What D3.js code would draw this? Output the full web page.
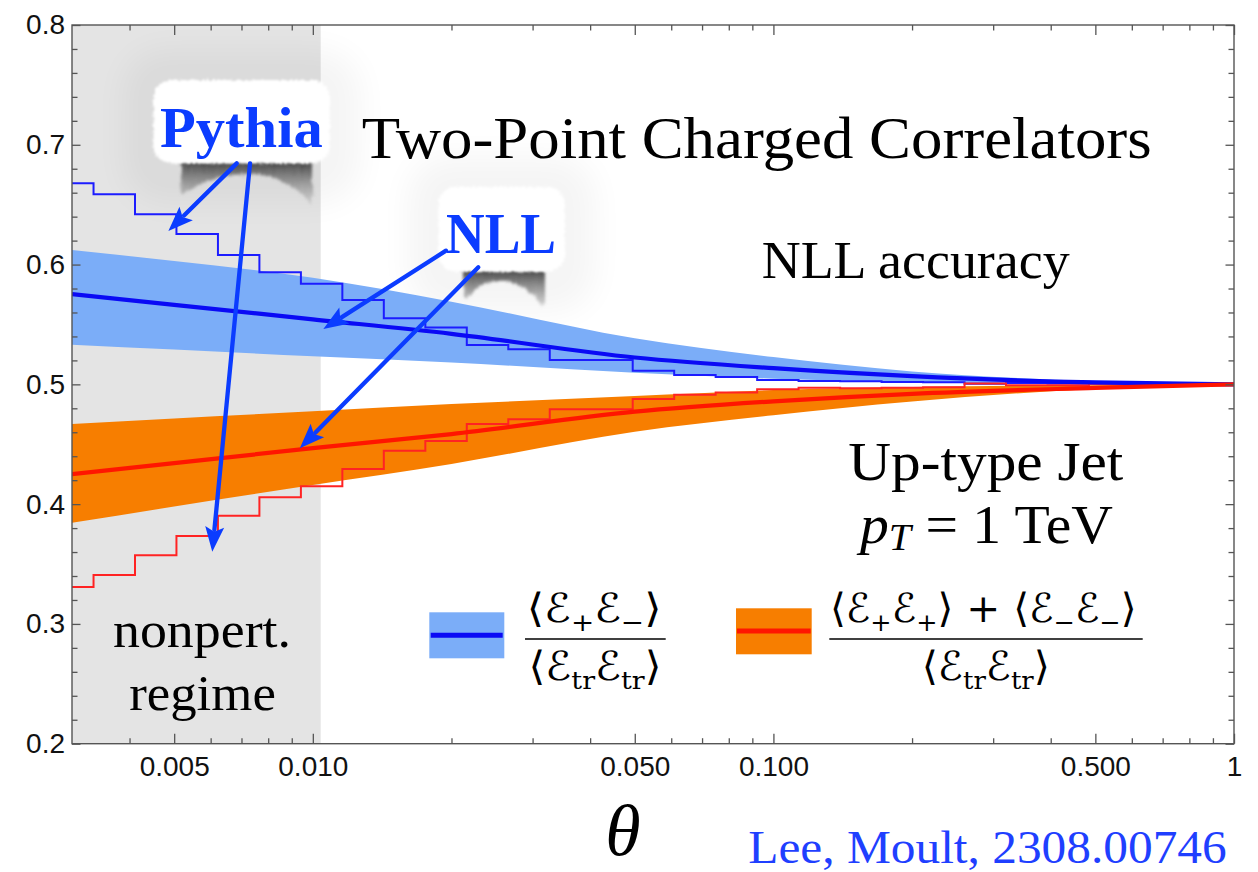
<!DOCTYPE html>
<html>
<head>
<meta charset="utf-8">
<script src="https://cdn.jsdelivr.net/npm/d3@7"></script>
<style>
  html, body { margin: 0; padding: 0; background: #ffffff; }
  svg { display: block; }
</style>
</head>
<body>
<svg id="chart" width="1258" height="872"></svg>
<script>
// ---------------------------------------------------------------
// Two-point charged energy correlators, up-type jet, pT = 1 TeV
// ---------------------------------------------------------------

// Pythia histogram bin edges in theta (log-spaced bins)
const binEdges = [
  0.002715, 0.003341, 0.004111, 0.005057, 0.006223, 0.007656, 0.009421,
  0.01159, 0.01426, 0.01755, 0.02159, 0.02657, 0.03269, 0.04022, 0.04949,
  0.06089, 0.07492, 0.09219, 0.1134, 0.1396, 0.1717, 0.2113, 0.2600,
  0.3199, 0.3936, 0.4843, 0.5959, 0.7333, 0.9022, 1.11
];

// Pythia: <E+ E-> / <Etr Etr>, one value per bin
const pythiaOpposite = [
  0.6678, 0.6586, 0.6420, 0.6255, 0.6080, 0.5935, 0.5840, 0.5704,
  0.5551, 0.5475, 0.5329, 0.5292, 0.5203, 0.5203, 0.5114, 0.5078,
  0.5061, 0.5036, 0.5028, 0.5025, 0.5020, 0.5018, 0.5005, 0.5012,
  0.5008, 0.5005, 0.5003, 0.5002, 0.5001
];

// Pythia: (<E+ E+> + <E- E->) / <Etr Etr>, one value per bin
const pythiaSame = [
  0.3309, 0.3408, 0.3573, 0.3734, 0.3904, 0.4057, 0.4149, 0.4293,
  0.4446, 0.4527, 0.4669, 0.4708, 0.4792, 0.4792, 0.4878, 0.4914,
  0.4931, 0.4959, 0.4972, 0.4968, 0.4972, 0.4975, 0.5008, 0.4992,
  0.4993, 0.5004, 0.4998, 0.4999, 0.4999
];

// NLL predictions sampled in theta
const thetaGrid = [0.003, 0.005, 0.01, 0.02, 0.05, 0.1, 0.2, 0.5, 1.0];

const nllOppCentral = [0.5754, 0.5664, 0.5543, 0.5422, 0.5224, 0.5135, 0.5068, 0.5016, 0.5000];
const nllOppUpper   = [0.6122, 0.6030, 0.5890, 0.5690, 0.5385, 0.5228, 0.5108, 0.5027, 0.5000];
const nllOppLower   = [0.5330, 0.5290, 0.5235, 0.5183, 0.5097, 0.5047, 0.5020, 0.5005, 0.5000];

const nllSameCentral = [0.4251, 0.4343, 0.4467, 0.4585, 0.4772, 0.4858, 0.4921, 0.4970, 0.5000];
const nllSameUpper   = [0.4669, 0.4715, 0.4775, 0.4835, 0.4903, 0.4952, 0.4977, 0.4993, 0.5000];
const nllSameLower   = [0.3844, 0.3980, 0.4160, 0.4336, 0.4605, 0.4742, 0.4857, 0.4962, 0.5000];

// Non-perturbative region boundary in theta
const nonpertLimit = 0.0104;

// Axis ticks
const xMajorTicks  = [0.005, 0.01, 0.05, 0.1, 0.5, 1];
const xTickLabels  = ["0.005", "0.010", "0.050", "0.100", "0.500", "1"];
const xMinorTicks  = [0.004, 0.006, 0.007, 0.008, 0.009, 0.02, 0.03, 0.04,
                      0.06, 0.07, 0.08, 0.09, 0.2, 0.3, 0.4, 0.6, 0.7, 0.8, 0.9];
const yMajorTicks  = [0.2, 0.3, 0.4, 0.5, 0.6, 0.7, 0.8];
const yTickLabels  = ["0.2", "0.3", "0.4", "0.5", "0.6", "0.7", "0.8"];
const yMinorTicks  = [0.22, 0.24, 0.26, 0.28, 0.32, 0.34, 0.36, 0.38, 0.42, 0.44, 0.46, 0.48,
                      0.52, 0.54, 0.56, 0.58, 0.62, 0.64, 0.66, 0.68, 0.72, 0.74, 0.76, 0.78];

// Callout arrows: [thetaStart, valueStart, thetaTip, valueTip]
const pythiaArrows = [
  [0.006836, 0.6845, 0.004857, 0.6280],
  [0.007305, 0.6845, 0.006049, 0.3603]
];
const nllArrows = [
  [0.01946, 0.6116, 0.01054, 0.5462],
  [0.02287, 0.5977, 0.009370, 0.4466]
];

// ---------------------------------------------------------------
const svg = d3.select("#chart");
const plot = { left: 72, right: 1234, top: 25, bottom: 743.7 };

const x = d3.scaleLog().domain([0.003, 1]).range([plot.left, plot.right]);
const y = d3.scaleLinear().domain([0.2, 0.8]).range([plot.bottom, plot.top]);

const C = {
  oppBand: "#7badf8",
  oppLine: "#0a0af5",
  oppHist: "#1c1cff",
  sameBand: "#f77e00",
  sameLine: "#ff1600",
  sameHist: "#ff2323",
  callout: "#0b3cff",
  axis: "#555555",
  shade: "#e4e4e4"
};

const defs = svg.append("defs");
defs.append("clipPath").attr("id", "plot-clip")
  .append("rect")
  .attr("x", plot.left).attr("y", plot.top)
  .attr("width", plot.right - plot.left).attr("height", plot.bottom - plot.top);

const haloFilter = defs.append("filter").attr("id", "halo")
  .attr("x", "-60%").attr("y", "-60%").attr("width", "220%").attr("height", "220%");
haloFilter.append("feGaussianBlur").attr("stdDeviation", 16);

const roughFilter = defs.append("filter").attr("id", "rough")
  .attr("x", "-10%").attr("y", "-10%").attr("width", "120%").attr("height", "120%");
roughFilter.append("feTurbulence").attr("type", "fractalNoise")
  .attr("baseFrequency", 0.45).attr("numOctaves", 2).attr("seed", 3).attr("result", "noise");
roughFilter.append("feDisplacementMap").attr("in", "SourceGraphic").attr("in2", "noise")
  .attr("scale", 5).attr("xChannelSelector", "R").attr("yChannelSelector", "G").attr("result", "disp");
roughFilter.append("feGaussianBlur").attr("in", "disp").attr("stdDeviation", 0.8);

const shadowBlur = defs.append("filter").attr("id", "shadowblur")
  .attr("x", "-20%").attr("y", "-20%").attr("width", "140%").attr("height", "140%");
shadowBlur.append("feTurbulence").attr("type", "fractalNoise")
  .attr("baseFrequency", "0.6 0.05").attr("numOctaves", 2).attr("seed", 7).attr("result", "n");
shadowBlur.append("feDisplacementMap").attr("in", "SourceGraphic").attr("in2", "n")
  .attr("scale", 6).attr("xChannelSelector", "R").attr("yChannelSelector", "G").attr("result", "d");
shadowBlur.append("feGaussianBlur").attr("in", "d").attr("stdDeviation", 1.6);

const shadowGrad = defs.append("linearGradient").attr("id", "shadowgrad")
  .attr("x1", 0).attr("y1", 0).attr("x2", 0).attr("y2", 1);
shadowGrad.append("stop").attr("offset", "0%").attr("stop-color", "#3c3c3c").attr("stop-opacity", 0.95);
shadowGrad.append("stop").attr("offset", "35%").attr("stop-color", "#6e6e6e").attr("stop-opacity", 0.8);
shadowGrad.append("stop").attr("offset", "100%").attr("stop-color", "#a8a8a8").attr("stop-opacity", 0.35);

// ---------------- background + shaded region ----------------
svg.append("rect").attr("width", 1258).attr("height", 872).attr("fill", "#ffffff");

const plotG = svg.append("g").attr("clip-path", "url(#plot-clip)");

plotG.append("rect")
  .attr("x", x(0.003)).attr("y", plot.top)
  .attr("width", x(nonpertLimit) - x(0.003))
  .attr("height", plot.bottom - plot.top)
  .attr("fill", C.shade);

// soft halos around the callout boxes
const boxes = [
  { x0: 153.3, x1: 330, y0: 80, y1: 163.3 },
  { x0: 438.3, x1: 565, y0: 186.7, y1: 271.7 }
];
boxes.forEach(b => {
  plotG.append("rect")
    .attr("x", b.x0 - 30).attr("y", b.y0 - 30)
    .attr("width", b.x1 - b.x0 + 60).attr("height", b.y1 - b.y0 + 70)
    .attr("rx", 40)
    .attr("fill", "#000").attr("opacity", 0.04)
    .attr("filter", "url(#halo)");
});

// ---------------- NLL bands ----------------
const bandOpp = thetaGrid.map((t, i) => ({ t, lo: nllOppLower[i], hi: nllOppUpper[i], c: nllOppCentral[i] }));
const bandSame = thetaGrid.map((t, i) => ({ t, lo: nllSameLower[i], hi: nllSameUpper[i], c: nllSameCentral[i] }));

const area = d3.area()
  .x(d => x(d.t)).y0(d => y(d.lo)).y1(d => y(d.hi))
  .curve(d3.curveMonotoneX);

plotG.append("path").datum(bandOpp).attr("d", area).attr("fill", C.oppBand);
plotG.append("path").datum(bandSame).attr("d", area).attr("fill", C.sameBand);

// ---------------- Pythia histograms ----------------
function stepPoints(values) {
  const pts = values.map((v, i) => ({ t: binEdges[i], v }));
  pts.push({ t: binEdges[values.length], v: values[values.length - 1] });
  return pts;
}
const stepLine = d3.line().x(d => x(d.t)).y(d => y(d.v)).curve(d3.curveStepAfter);

plotG.append("path").datum(stepPoints(pythiaOpposite)).attr("d", stepLine)
  .attr("fill", "none").attr("stroke", C.oppHist).attr("stroke-width", 2);
plotG.append("path").datum(stepPoints(pythiaSame)).attr("d", stepLine)
  .attr("fill", "none").attr("stroke", C.sameHist).attr("stroke-width", 2);

// ---------------- NLL central curves ----------------
const centralLine = d3.line().x(d => x(d.t)).y(d => y(d.c)).curve(d3.curveMonotoneX);
plotG.append("path").datum(bandOpp).attr("d", centralLine)
  .attr("fill", "none").attr("stroke", C.oppLine).attr("stroke-width", 4.2);
plotG.append("path").datum(bandSame).attr("d", centralLine)
  .attr("fill", "none").attr("stroke", C.sameLine).attr("stroke-width", 4.2);

// ---------------- axes (frame with inward ticks) ----------------
function styleAxis(g) {
  g.select(".domain").remove();
  g.selectAll(".tick line").attr("stroke", C.axis).attr("stroke-width", 1.3);
  g.selectAll(".tick text")
    .attr("font-family", "'Liberation Sans', Arial, Helvetica, sans-serif")
    .attr("font-size", 28).attr("fill", "#111");
}

svg.append("g").attr("transform", `translate(0,${plot.bottom})`)
  .call(d3.axisBottom(x).tickValues(xMajorTicks).tickSize(-10).tickPadding(12)
    .tickFormat((d, i) => xTickLabels[i]))
  .call(styleAxis);
svg.append("g").attr("transform", `translate(0,${plot.bottom})`)
  .call(d3.axisBottom(x).tickValues(xMinorTicks).tickSize(-5.5).tickFormat(""))
  .call(styleAxis);
svg.append("g").attr("transform", `translate(0,${plot.top})`)
  .call(d3.axisTop(x).tickValues(xMajorTicks).tickSize(-10).tickFormat(""))
  .call(styleAxis);
svg.append("g").attr("transform", `translate(0,${plot.top})`)
  .call(d3.axisTop(x).tickValues(xMinorTicks).tickSize(-5.5).tickFormat(""))
  .call(styleAxis);

svg.append("g").attr("transform", `translate(${plot.left},0)`)
  .call(d3.axisLeft(y).tickValues(yMajorTicks).tickSize(-8.5).tickPadding(7)
    .tickFormat((d, i) => yTickLabels[i]))
  .call(styleAxis);
svg.append("g").attr("transform", `translate(${plot.left},0)`)
  .call(d3.axisLeft(y).tickValues(yMinorTicks).tickSize(-5.5).tickFormat(""))
  .call(styleAxis);
svg.append("g").attr("transform", `translate(${plot.right},0)`)
  .call(d3.axisRight(y).tickValues(yMajorTicks).tickSize(-8.5).tickFormat(""))
  .call(styleAxis);
svg.append("g").attr("transform", `translate(${plot.right},0)`)
  .call(d3.axisRight(y).tickValues(yMinorTicks).tickSize(-5.5).tickFormat(""))
  .call(styleAxis);

svg.append("rect")
  .attr("x", plot.left).attr("y", plot.top)
  .attr("width", plot.right - plot.left).attr("height", plot.bottom - plot.top)
  .attr("fill", "none").attr("stroke", C.axis).attr("stroke-width", 1.4);

// ---------------- text annotations ----------------
const serif = "'Liberation Serif', 'Times New Roman', serif";

function label(txt, opts) {
  const t = svg.append("text")
    .attr("x", opts.x).attr("y", opts.y)
    .attr("font-family", opts.family || serif)
    .attr("font-size", opts.size)
    .attr("fill", opts.fill || "#000")
    .attr("text-anchor", opts.anchor || "start")
    .text(txt);
  if (opts.weight) t.attr("font-weight", opts.weight);
  if (opts.style) t.attr("font-style", opts.style);
  if (opts.len) t.attr("textLength", opts.len).attr("lengthAdjust", "spacingAndGlyphs");
  return t;
}

label("Two-Point Charged Correlators", { x: 361.7, y: 158.3, size: 60, len: 790 });
label("NLL accuracy", { x: 761.7, y: 278.3, size: 52, len: 308 });
label("Up-type Jet", { x: 848.3, y: 480, size: 55, len: 275 });

const pt = svg.append("text").attr("x", 860).attr("y", 543.3)
  .attr("font-family", serif).attr("font-size", 55)
  .attr("textLength", 253).attr("lengthAdjust", "spacingAndGlyphs");
pt.append("tspan").attr("font-style", "italic").text("p");
pt.append("tspan").attr("font-style", "italic").attr("font-size", 38).attr("dy", 7).text("T");
pt.append("tspan").attr("dy", -7).text(" = 1 TeV");

label("nonpert.", { x: 202, y: 646.7, size: 50, anchor: "middle", len: 178 });
label("regime", { x: 202.5, y: 710, size: 50, anchor: "middle", len: 146.7 });

label("\u03B8", { x: 623, y: 855, size: 72, anchor: "middle", style: "italic" });
label("Lee, Moult, 2308.00746", { x: 748.3, y: 863.3, size: 46, fill: "#1f3fff", len: 478.4 });

// ---------------- legend ----------------
const legend = svg.append("g");
legend.append("rect").attr("x", 429.3).attr("y", 612.3).attr("width", 75).attr("height", 46)
  .attr("fill", C.oppBand);
legend.append("line").attr("x1", 430.7).attr("x2", 502.7).attr("y1", 635.3).attr("y2", 635.3)
  .attr("stroke", C.oppLine).attr("stroke-width", 5);
legend.append("rect").attr("x", 736).attr("y", 608.3).attr("width", 75.7).attr("height", 46)
  .attr("fill", C.sameBand);
legend.append("line").attr("x1", 737).attr("x2", 810.7).attr("y1", 631).attr("y2", 631)
  .attr("stroke", C.sameLine).attr("stroke-width", 5);

const mathFont = "'DejaVu Serif', 'DejaVu Sans', serif";
function mathText(cx, by, parts, len) {
  const t = legend.append("text").attr("x", cx).attr("y", by)
    .attr("text-anchor", "middle").attr("font-family", mathFont).attr("font-size", 40)
    .attr("textLength", len).attr("lengthAdjust", "spacingAndGlyphs");
  let shifted = false;
  parts.forEach(p => {
    const s = t.append("tspan").text(p[0]);
    if (p[1] === "sub") {
      s.attr("font-size", 25).attr("dy", shifted ? 0 : 9);
      shifted = true;
    } else if (shifted) {
      s.attr("dy", -9);
      shifted = false;
    }
  });
  return t;
}
const E = "\u2130", LA = "\u27E8", RA = "\u27E9";
mathText(594.2, 621.7, [[LA], [E], ["+", "sub"], [E], ["\u2212", "sub"], [RA]], 135);
legend.append("line").attr("x1", 525).attr("x2", 665.7).attr("y1", 639).attr("y2", 639)
  .attr("stroke", "#000").attr("stroke-width", 1.6);
mathText(595, 680, [[LA], [E], ["tr", "sub"], [E], ["tr", "sub"], [RA]], 133);

mathText(983.3, 621.7, [[LA], [E], ["+", "sub"], [E], ["+", "sub"], [RA + " + " + LA], [E], ["\u2212", "sub"], [E], ["\u2212", "sub"], [RA]], 306.7);
legend.append("line").attr("x1", 829.3).attr("x2", 1142.7).attr("y1", 639).attr("y2", 639)
  .attr("stroke", "#000").attr("stroke-width", 1.6);
mathText(985.8, 680, [[LA], [E], ["tr", "sub"], [E], ["tr", "sub"], [RA]], 128.3);

// ---------------- callout boxes ----------------
const callouts = svg.append("g");

// torn-edge shadows below the boxes
callouts.append("path")
  .attr("d", "M180,162 H312 V204 C304,196 290,180 262,175 C236,171 206,178 182,194 Z")
  .attr("fill", "url(#shadowgrad)").attr("filter", "url(#shadowblur)");
callouts.append("path")
  .attr("d", "M463,270 H545 V311 C540,300 528,286 506,281 C488,279 474,288 465,300 Z")
  .attr("fill", "url(#shadowgrad)").attr("filter", "url(#shadowblur)");

boxes.forEach(b => {
  callouts.append("rect")
    .attr("x", b.x0).attr("y", b.y0)
    .attr("width", b.x1 - b.x0).attr("height", b.y1 - b.y0)
    .attr("rx", 18).attr("fill", "#ffffff").attr("filter", "url(#rough)");
});

// arrows
function arrow(a) {
  const x0 = x(a[0]), y0 = y(a[1]), x1 = x(a[2]), y1 = y(a[3]);
  const dx = x1 - x0, dy = y1 - y0, L = Math.hypot(dx, dy);
  const ux = dx / L, uy = dy / L;
  const head = 25, half = 9.5;
  const bx = x1 - ux * head, by = y1 - uy * head;
  callouts.append("line")
    .attr("x1", x0).attr("y1", y0).attr("x2", bx + ux * 3).attr("y2", by + uy * 3)
    .attr("stroke", C.callout).attr("stroke-width", 4.3).attr("stroke-linecap", "round");
  callouts.append("path")
    .attr("d", `M${x1},${y1} L${bx - uy * half},${by + ux * half} L${bx + ux * 5},${by + uy * 5} L${bx + uy * half},${by - ux * half} Z`)
    .attr("fill", C.callout);
}
pythiaArrows.forEach(arrow);
nllArrows.forEach(arrow);

label("Pythia", { x: 160, y: 146.7, size: 56, weight: "bold", fill: C.callout, len: 162.7 });
label("NLL", { x: 446, y: 253.3, size: 56, weight: "bold", fill: C.callout, len: 110 });
</script>
</body>
</html>
